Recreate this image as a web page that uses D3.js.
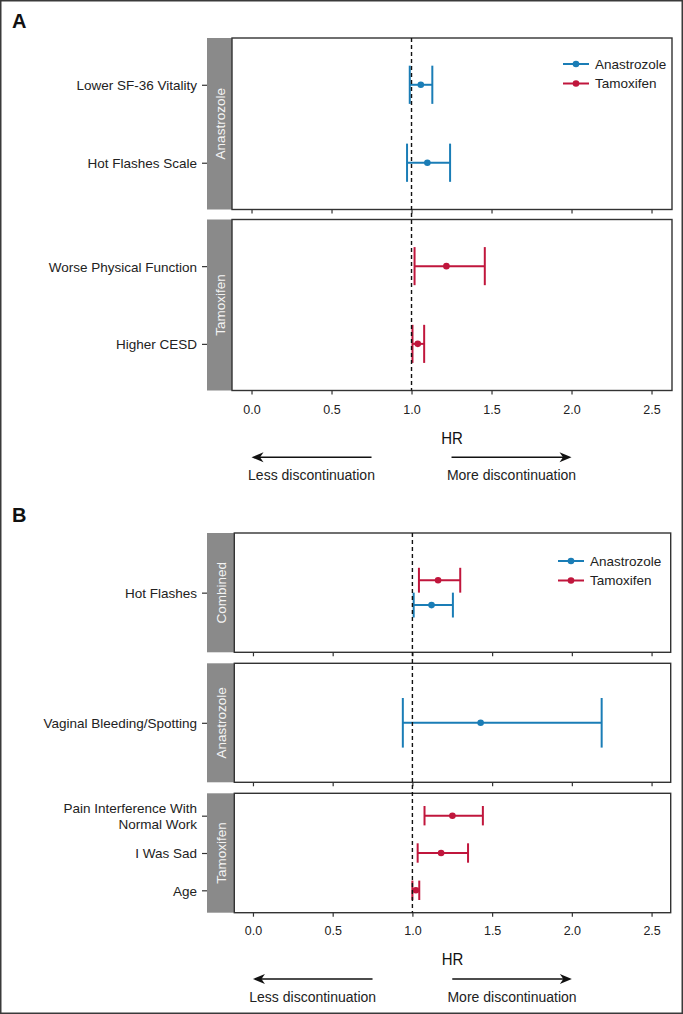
<!DOCTYPE html>
<html>
<head>
<meta charset="utf-8">
<script src="https://cdn.jsdelivr.net/npm/d3@7"></script>
<style>
  html, body { margin: 0; padding: 0; background: #fff; }
  svg { display: block; font-family: "Liberation Sans", Arial, Helvetica, sans-serif; }
</style>
</head>
<body>
<script>
// ---------------- DATA ----------------
const seriesNames = ["Anastrozole", "Tamoxifen"];
const xTicks = [0, 0.5, 1.0, 1.5, 2.0, 2.5];

// Panel A
const facetsA = ["Anastrozole", "Tamoxifen"];
const rowsA_Anastrozole = ["Lower SF-36 Vitality", "Hot Flashes Scale"];
const hrA_Anastrozole = [1.058, 1.099];
const lowA_Anastrozole = [0.989, 0.972];
const highA_Anastrozole = [1.130, 1.241];

const rowsA_Tamoxifen = ["Worse Physical Function", "Higher CESD"];
const hrA_Tamoxifen = [1.218, 1.039];
const lowA_Tamoxifen = [1.019, 1.006];
const highA_Tamoxifen = [1.458, 1.079];

// Panel B
const facetsB = ["Combined", "Anastrozole", "Tamoxifen"];
const rowsB_Combined = ["Hot Flashes"];
const hrB_Combined_Anastrozole = [1.120];
const lowB_Combined_Anastrozole = [1.008];
const highB_Combined_Anastrozole = [1.254];
const hrB_Combined_Tamoxifen = [1.161];
const lowB_Combined_Tamoxifen = [1.041];
const highB_Combined_Tamoxifen = [1.300];

const rowsB_Anastrozole = ["Vaginal Bleeding/Spotting"];
const hrB_Anastrozole = [1.428];
const lowB_Anastrozole = [0.940];
const highB_Anastrozole = [2.187];

const rowsB_Tamoxifen = ["Pain Interference With\nNormal Work", "I Was Sad", "Age"];
const hrB_Tamoxifen = [1.251, 1.180, 1.022];
const lowB_Tamoxifen = [1.076, 1.033, 1.000];
const highB_Tamoxifen = [1.442, 1.349, 1.043];

// ---------------- STYLE ----------------
const color = d3.scaleOrdinal().domain(seriesNames).range(["#1a7db6", "#c0163c"]);
const W = 683, H = 1014;

const svg = d3.select("body").append("svg").attr("width", W).attr("height", H);

svg.append("rect")
  .attr("x", 0.75).attr("y", 0.75).attr("width", W - 1.5).attr("height", H - 1.5)
  .attr("fill", "#fff").attr("stroke", "#3a3a3a").attr("stroke-width", 1.5);

function rowsOf(rows, hr, low, high) {
  return rows.map((r, i) => ({ row: r, hr: hr[i], low: low[i], high: high[i] }));
}

function drawFigure(cfg) {
  const g = svg.append("g");
  const x = d3.scaleLinear().domain(cfg.xDomain).range([cfg.plotX0, cfg.plotX1]);

  g.append("text").attr("x", cfg.letterX).attr("y", cfg.letterY)
    .attr("font-size", 20).attr("font-weight", "bold").attr("fill", "#111").text(cfg.letter);

  const nP = cfg.panels.length;
  cfg.panels.forEach((p, pi) => {
    const y = d3.scalePoint().domain(p.rows).range([p.top, p.bottom]).padding(0.6);
    const step = y.step();

    // strip
    g.append("rect").attr("x", cfg.stripX0).attr("y", p.top)
      .attr("width", cfg.plotX0 - cfg.stripX0).attr("height", p.bottom - p.top)
      .attr("fill", "#8a8a8a");
    const cx = (cfg.stripX0 + cfg.plotX0) / 2, cy = (p.top + p.bottom) / 2;
    g.append("text")
      .attr("transform", `translate(${cx + 0.5},${cy}) rotate(-90)`)
      .attr("text-anchor", "middle").attr("dy", "0.36em")
      .attr("font-size", 13.5).attr("fill", "#f4f4f4").text(p.name);

    // plot border
    g.append("rect").attr("x", cfg.plotX0).attr("y", p.top)
      .attr("width", cfg.plotX1 - cfg.plotX0).attr("height", p.bottom - p.top)
      .attr("fill", "none").attr("stroke", "#333").attr("stroke-width", 1.4);

    // y axis
    const ya = g.append("g").attr("transform", `translate(${cfg.stripX0},0)`)
      .call(d3.axisLeft(y).tickSize(5).tickSizeOuter(0).tickPadding(5));
    ya.select(".domain").remove();
    ya.selectAll(".tick line").attr("stroke", "#333").attr("stroke-width", 1.2);
    ya.selectAll(".tick text").each(function(d) {
      const t = d3.select(this);
      const lines = d.split("\n");
      t.text(null).attr("font-size", 13.5).attr("fill", "#222")
        .attr("font-family", "Liberation Sans, Arial, sans-serif").attr("dy", null);
      const lh = 16;
      lines.forEach((ln, k) => {
        t.append("tspan").attr("x", -10)
          .attr("y", (k - (lines.length - 1) / 2) * lh)
          .attr("dy", "0.36em").text(ln);
      });
    });

    // x axis ticks under each panel
    const last = pi === nP - 1;
    const xa = g.append("g").attr("transform", `translate(0,${p.bottom})`)
      .call(d3.axisBottom(x).tickValues(xTicks).tickSize(4).tickSizeOuter(0)
        .tickFormat(last ? d3.format(".1f") : () => ""));
    xa.select(".domain").remove();
    xa.selectAll(".tick line").attr("stroke", "#333").attr("stroke-width", 1.2);
    xa.selectAll(".tick text").attr("font-size", 12.5).attr("fill", "#222")
      .attr("font-family", "Liberation Sans, Arial, sans-serif")
      .attr("y", cfg.tickBaseline - p.bottom).attr("dy", null);

    // error bars
    p.series.forEach(s => {
      const c = color(s.name);
      const off = s.offset * step, cap = s.cap * step;
      const eg = g.append("g");
      s.data.forEach(d => {
        const yy = y(d.row) + off;
        eg.append("line").attr("x1", x(d.low)).attr("x2", x(d.high))
          .attr("y1", yy).attr("y2", yy).attr("stroke", c).attr("stroke-width", 2);
        [d.low, d.high].forEach(v => {
          eg.append("line").attr("x1", x(v)).attr("x2", x(v))
            .attr("y1", yy - cap).attr("y2", yy + cap)
            .attr("stroke", c).attr("stroke-width", 2);
        });
        eg.append("circle").attr("cx", x(d.hr)).attr("cy", yy).attr("r", 3.3).attr("fill", c);
      });
    });
  });

  // reference line at HR = 1
  g.append("line").attr("x1", x(1)).attr("x2", x(1))
    .attr("y1", cfg.panels[0].top).attr("y2", cfg.panels[nP - 1].bottom)
    .attr("stroke", "#111").attr("stroke-width", 1.4).attr("stroke-dasharray", "4,3");

  // legend
  seriesNames.forEach((s, i) => {
    const ly = cfg.legendY + i * 19.5;
    g.append("line").attr("x1", cfg.legendX).attr("x2", cfg.legendX + 26)
      .attr("y1", ly).attr("y2", ly).attr("stroke", color(s)).attr("stroke-width", 2);
    g.append("circle").attr("cx", cfg.legendX + 13).attr("cy", ly).attr("r", 3.3).attr("fill", color(s));
    g.append("text").attr("x", cfg.legendX + 32).attr("y", ly).attr("dy", "0.36em")
      .attr("font-size", 13.5).attr("fill", "#222").text(s);
  });

  // HR label
  const hx = (cfg.plotX0 + cfg.plotX1) / 2;
  g.append("text").attr("transform", `translate(${hx},${cfg.hrBaseline}) scale(0.88,1)`)
    .attr("text-anchor", "middle").attr("font-size", 17).attr("fill", "#111").text("HR");

  // arrows
  function arrow(from, to, yy) {
    const x1 = x(from), x2 = x(to);
    const dir = Math.sign(x2 - x1);
    g.append("line").attr("x1", x1).attr("x2", x2 - dir * 6).attr("y1", yy).attr("y2", yy)
      .attr("stroke", "#111").attr("stroke-width", 1.5);
    g.append("path")
      .attr("d", `M${x2},${yy} L${x2 - dir * 12},${yy - 5} L${x2 - dir * 8.5},${yy} L${x2 - dir * 12},${yy + 5} Z`)
      .attr("fill", "#111");
  }
  arrow(0.75, 0, cfg.arrowY);
  arrow(1.25, 2.0, cfg.arrowY);
  g.append("text").attr("x", x(0.375)).attr("y", cfg.arrowTextBaseline)
    .attr("text-anchor", "middle").attr("font-size", 14).attr("fill", "#222").text("Less discontinuation");
  g.append("text").attr("x", x(1.625)).attr("y", cfg.arrowTextBaseline)
    .attr("text-anchor", "middle").attr("font-size", 14).attr("fill", "#222").text("More discontinuation");
}

// ---------------- PANEL A ----------------
drawFigure({
  letter: "A", letterX: 12, letterY: 28,
  xDomain: [-0.122, 2.628], plotX0: 232, plotX1: 672, stripX0: 207,
  tickBaseline: 413.5, hrBaseline: 443.5, arrowY: 457.3, arrowTextBaseline: 480,
  legendX: 563, legendY: 64,
  panels: [
    { name: facetsA[0], top: 38, bottom: 209.5, rows: rowsA_Anastrozole,
      series: [{ name: "Anastrozole", offset: 0, cap: 0.245,
        data: rowsOf(rowsA_Anastrozole, hrA_Anastrozole, lowA_Anastrozole, highA_Anastrozole) }] },
    { name: facetsA[1], top: 219.5, bottom: 390.5, rows: rowsA_Tamoxifen,
      series: [{ name: "Tamoxifen", offset: 0, cap: 0.245,
        data: rowsOf(rowsA_Tamoxifen, hrA_Tamoxifen, lowA_Tamoxifen, highA_Tamoxifen) }] }
  ]
});

// ---------------- PANEL B ----------------
drawFigure({
  letter: "B", letterX: 12, letterY: 522,
  xDomain: [-0.117, 2.620], plotX0: 234.3, plotX1: 670.7, stripX0: 207,
  tickBaseline: 935.5, hrBaseline: 965, arrowY: 979, arrowTextBaseline: 1001.5,
  legendX: 558, legendY: 561,
  panels: [
    { name: facetsB[0], top: 533, bottom: 652.3, rows: rowsB_Combined,
      series: [
        { name: "Tamoxifen", offset: -0.125, cap: 0.125,
          data: rowsOf(rowsB_Combined, hrB_Combined_Tamoxifen, lowB_Combined_Tamoxifen, highB_Combined_Tamoxifen) },
        { name: "Anastrozole", offset: 0.125, cap: 0.125,
          data: rowsOf(rowsB_Combined, hrB_Combined_Anastrozole, lowB_Combined_Anastrozole, highB_Combined_Anastrozole) }
      ] },
    { name: facetsB[1], top: 663.3, bottom: 782.3, rows: rowsB_Anastrozole,
      series: [{ name: "Anastrozole", offset: 0, cap: 0.25,
        data: rowsOf(rowsB_Anastrozole, hrB_Anastrozole, lowB_Anastrozole, highB_Anastrozole) }] },
    { name: facetsB[2], top: 793.3, bottom: 912.7, rows: rowsB_Tamoxifen,
      series: [{ name: "Tamoxifen", offset: 0, cap: 0.26,
        data: rowsOf(rowsB_Tamoxifen, hrB_Tamoxifen, lowB_Tamoxifen, highB_Tamoxifen) }] }
  ]
});
</script>
</body>
</html>
